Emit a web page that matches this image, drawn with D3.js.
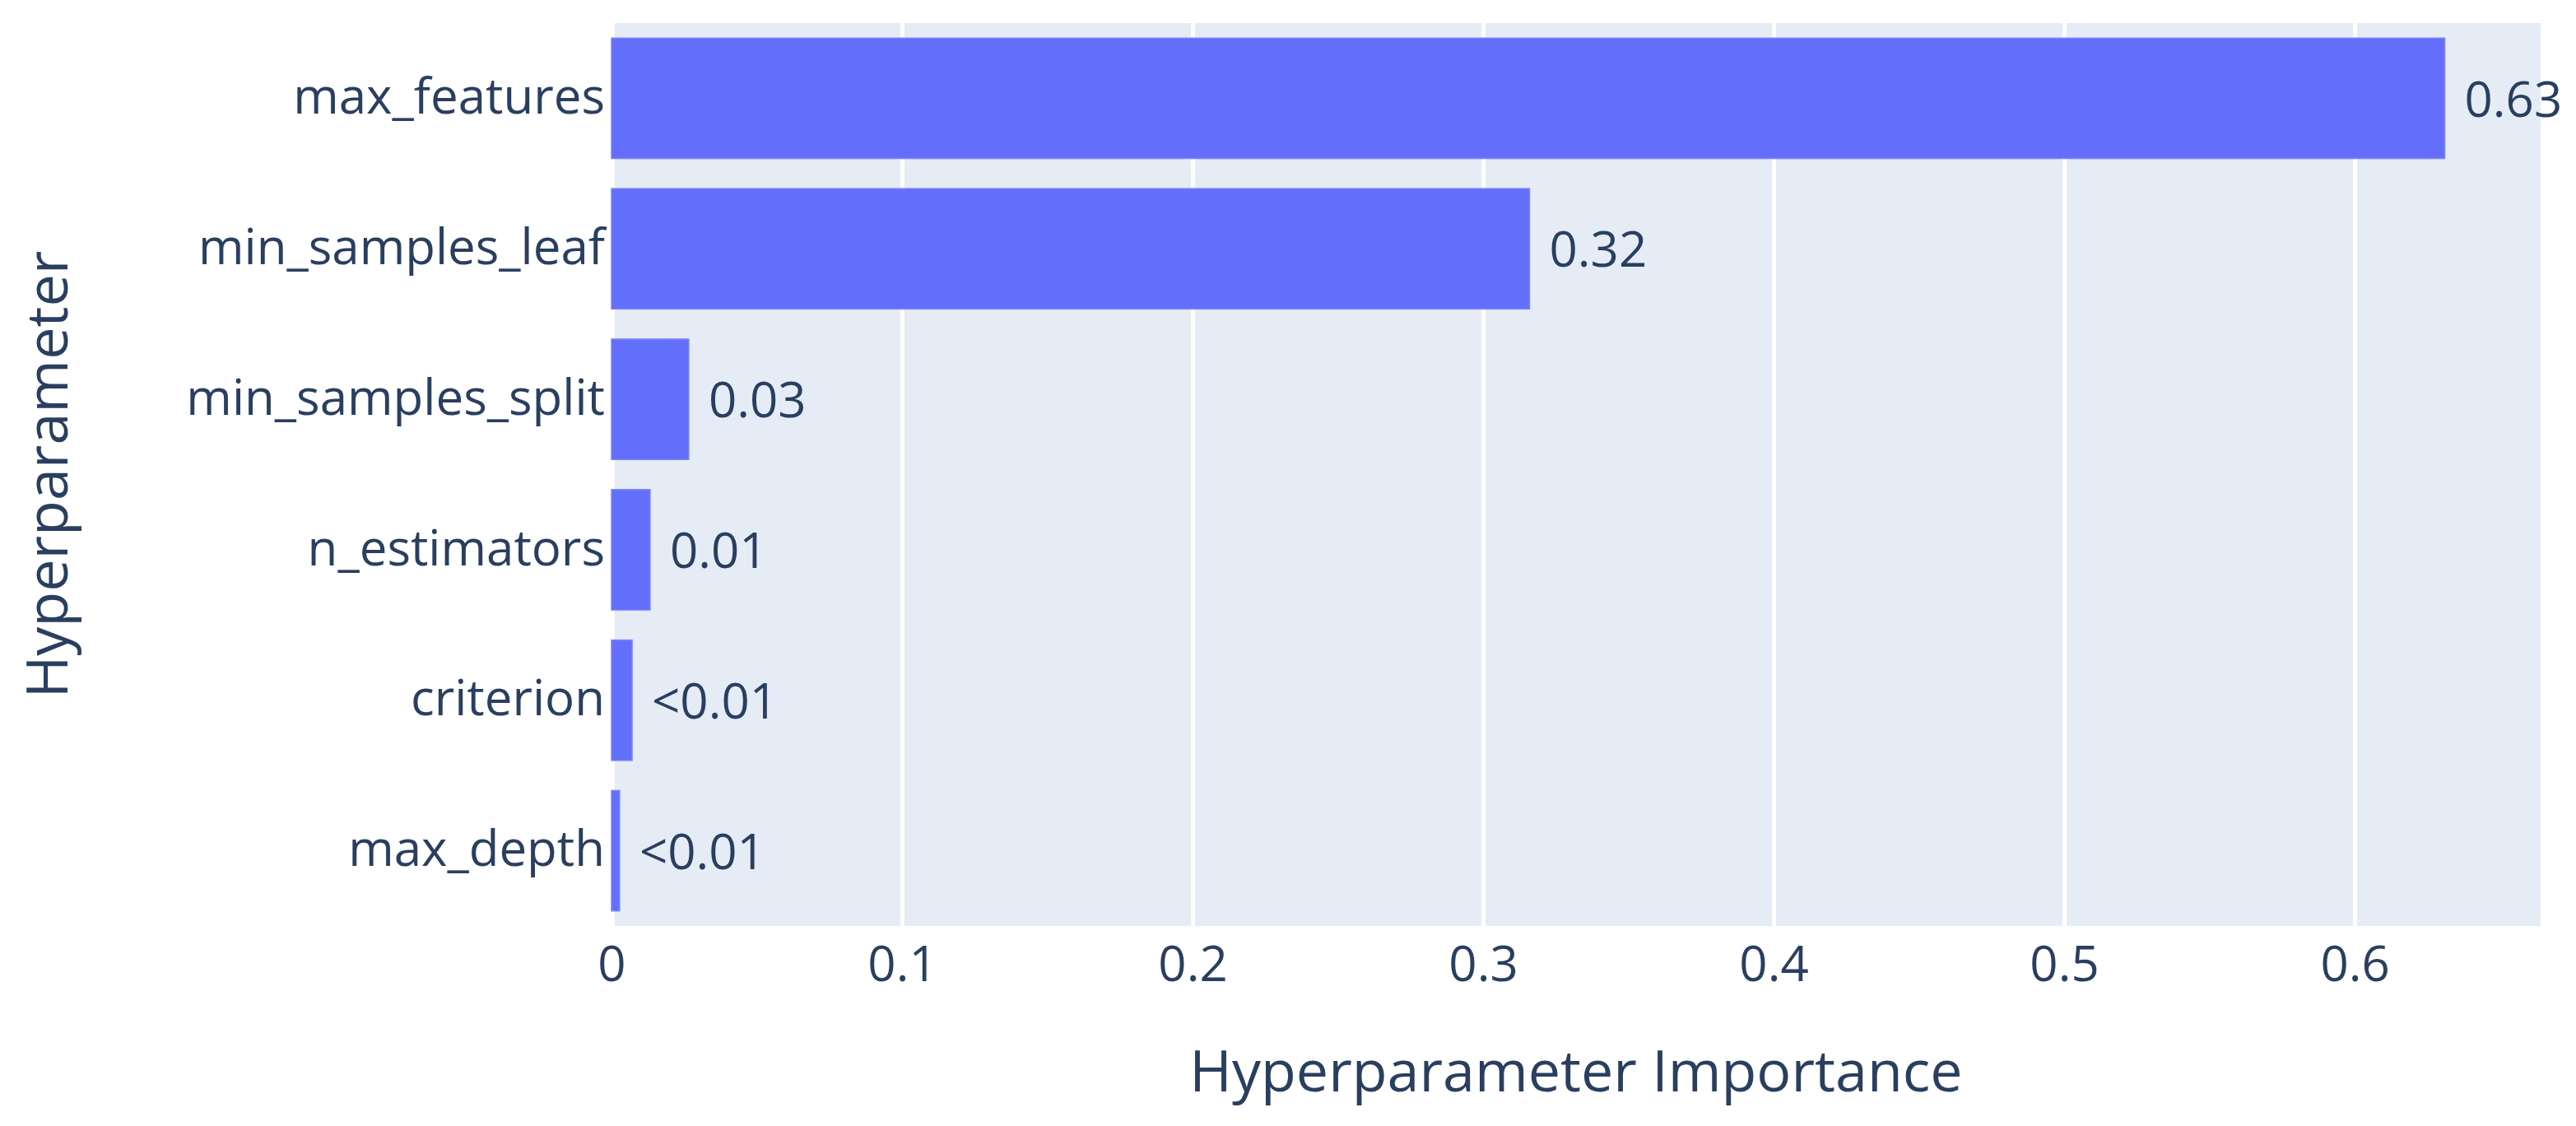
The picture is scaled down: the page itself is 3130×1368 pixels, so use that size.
<!DOCTYPE html>
<html>
<head>
<meta charset="utf-8">
<script src="https://cdn.jsdelivr.net/npm/d3@7"></script>
<style>
  html, body { margin: 0; padding: 0; background: #fff; }
  svg text { font-family: "Open Sans", verdana, arial, sans-serif; fill: #2a3f5f; }
</style>
</head>
<body>
<svg id="chart" width="3130" height="1368"></svg>
<script>
// hyperparameter importances, top to bottom
var params = ["max_features", "min_samples_leaf", "min_samples_split", "n_estimators", "criterion", "max_depth"];
var importance = [0.631, 0.316, 0.0266, 0.0133, 0.0071, 0.0028];
var valueLabels = ["0.63", "0.32", "0.03", "0.01", "<0.01", "<0.01"];
var xTicks = [0, 0.1, 0.2, 0.3, 0.4, 0.5, 0.6];
var xMax = 0.664;

var svg = d3.select("#chart");
// plot area edges (note: "top" is reserved on window)
var plotLeft = 743, plotRight = 3087, plotTop = 28, plotBottom = 1125;

var x = d3.scaleLinear().domain([0, xMax]).range([plotLeft, plotRight]);
var y = d3.scaleBand().domain(params).range([plotTop, plotBottom])
  .paddingInner(0.2)
  .paddingOuter(0.1);

// plot background
svg.append("rect")
  .attr("x", plotLeft + 4)
  .attr("y", plotTop)
  .attr("width", plotRight - plotLeft - 4)
  .attr("height", plotBottom - plotTop)
  .attr("fill", "#e5ecf6");

// x axis with grid
var xAxis = svg.append("g")
  .attr("transform", "translate(0," + plotBottom + ")")
  .call(d3.axisBottom(x)
    .tickValues(xTicks)
    .tickSize(-(plotBottom - plotTop))
    .tickFormat(function(d) { return d === 0 ? "0" : d3.format(".1f")(d); }));

xAxis.select(".domain").remove();
xAxis.selectAll(".tick line")
  .attr("stroke", function(d) { return d === 0 ? "none" : "#fff"; })
  .attr("stroke-width", 5);
xAxis.selectAll(".tick text")
  .attr("y", 67)
  .attr("dy", null)
  .attr("font-size", 60)
  .style("fill", "#2a3f5f");

// bars
svg.selectAll(".bar")
  .data(params)
  .enter()
    .append("rect")
      .attr("class", "bar")
      .attr("x", x(0))
      .attr("y", function(d) { return y(d); })
      .attr("width", function(d, i) { return x(importance[i]) - x(0); })
      .attr("height", y.bandwidth())
      .attr("fill", "#636efa")
      .attr("stroke", "#7b85fb")
      .attr("stroke-width", 1.5);

// value labels outside bars
svg.selectAll(".bar-label")
  .data(params)
  .enter()
    .append("text")
      .attr("class", "bar-label")
      .attr("x", function(d, i) { return x(importance[i]) + 24; })
      .attr("y", function(d) { return y(d) + y.bandwidth() / 2; })
      .attr("dy", "0.37em")
      .attr("font-size", 60)
      .text(function(d, i) { return valueLabels[i]; });

// y tick labels
svg.selectAll(".y-label")
  .data(params)
  .enter()
    .append("text")
      .attr("class", "y-label")
      .attr("x", plotLeft - 8)
      .attr("y", function(d) { return y(d) + y.bandwidth() / 2; })
      .attr("dy", "0.31em")
      .attr("text-anchor", "end")
      .attr("font-size", 60)
      .text(function(d) { return d; });

// axis titles
svg.append("text")
  .attr("x", (plotLeft + plotRight) / 2)
  .attr("y", 1326)
  .attr("text-anchor", "middle")
  .attr("font-size", 70)
  .text("Hyperparameter Importance");

svg.append("text")
  .attr("transform", "translate(82," + (plotTop + plotBottom) / 2 + ") rotate(-90)")
  .attr("text-anchor", "middle")
  .attr("font-size", 70)
  .text("Hyperparameter");
</script>
</body>
</html>
